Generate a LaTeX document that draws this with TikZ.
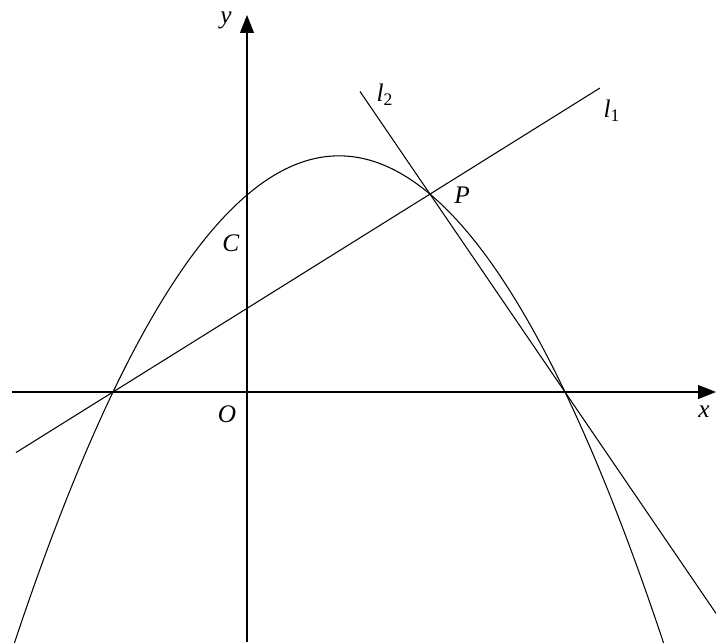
\documentclass[tikz,border=0pt]{standalone}
\usepackage{amsmath,amssymb}
\usepackage{fontspec}
\setmainfont{Liberation Serif}
\usetikzlibrary{arrows.meta,calc}

\begin{document}
\begin{tikzpicture}[line width=0.6pt, every node/.style={font=\Large}]
    \useasboundingbox (-4.94,-5.0) rectangle (9.38,7.84);
    % axes
    \draw[-{Triangle[length=3.6mm,width=2.8mm]}] (-4.7,0) -- (9.38,0);
    \draw[-{Triangle[length=3.6mm,width=2.8mm]}] (0,-5.0) -- (0,7.54);
    \node (xlab) at (9.38,-0.14) [anchor=north east] {\textit{x}};
    \node (ylab) at (-0.42,7.44) {\textit{y}};
    \node (O) at (-0.4,-0.44) {\textit{O}};
    % curve
    \draw[domain=-4.66:8.34, smooth, samples=80, variable=\x] plot (\x,{0.2312*(\x+2.68)*(6.36-\x)});
    \coordinate (A) at (-2.68,0);
    \coordinate (B) at (6.36,0);
    \coordinate (P) at (3.66,3.958);
    % lines
    \draw ($(A)!-0.306!(P)$) -- ($(A)!1.536!(P)$);
    \draw ($(P)!-0.519!(B)$) -- ($(P)!2.12!(B)$);
    \node (C) at (-0.32,2.98) {\textit{C}};
    \node (Plab) at (4.3,3.94) {\textit{P}};
    \node (ltwo) at (2.76,5.94) {\textit{l}\textsubscript{2}};
    \node (lone) at (7.3,5.62) {\textit{l}\textsubscript{1}};
\end{tikzpicture}
\end{document}
